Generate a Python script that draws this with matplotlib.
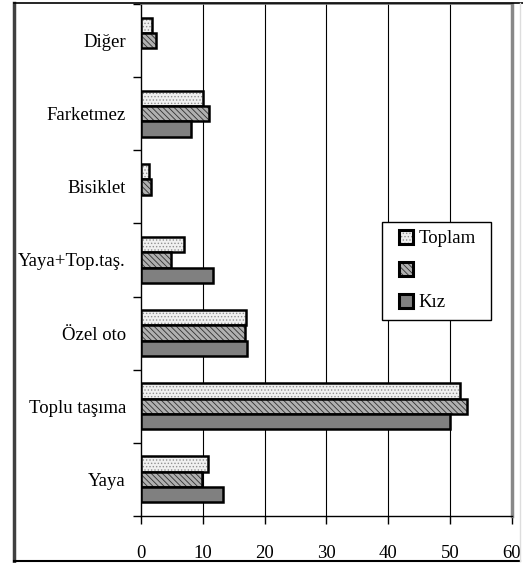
import matplotlib
matplotlib.use("Agg")
import matplotlib.pyplot as plt
from matplotlib.lines import Line2D
from matplotlib.patches import Rectangle
import numpy as np

categories = ["Yaya", "Toplu taşıma", "Özel oto", "Yaya+Top.taş.", "Bisiklet", "Farketmez", "Diğer"]
toplam = [10.9, 51.7, 17.0, 7.0, 1.3, 10.0, 1.8]
erkek = [9.9, 52.7, 16.9, 4.9, 1.6, 11.0, 2.5]
kiz = [13.2, 50.0, 17.2, 11.7, 0.0, 8.1, 0.0]
series_labels = ["Toplam", " ", "Kız"]
xticks = [0, 10, 20, 30, 40, 50, 60]

plt.rcParams['font.family'] = ['Liberation Serif', 'DejaVu Serif']
plt.rcParams['hatch.linewidth'] = 0.6

W, H = 523, 563
fig = plt.figure(figsize=(W/100, H/100), dpi=100)
ax = fig.add_axes([141/W, 1-516/H, (511.7-141)/W, (516-4)/H])

fs = 13.5
y = np.arange(len(categories))
h = 0.21
b1 = ax.barh(y + h, toplam, height=h, facecolor='#f0f0f0', edgecolor='black', hatch='.....', linewidth=1.8, zorder=3)
b2 = ax.barh(y, erkek, height=h, facecolor='#b0b0b0', edgecolor='black', hatch='\\\\\\\\\\\\', linewidth=1.8, zorder=3)
b3 = ax.barh(y - h, kiz, height=h, facecolor='#808080', edgecolor='black', linewidth=1.8, zorder=3)
for bars, hc in ((b1, '#909090'), (b2, '#303030')):
    for p in bars:
        p._hatch_color = matplotlib.colors.to_rgba(hc)
for bars, v in ((b1, toplam), (b2, erkek), (b3, kiz)):
    for p, val in zip(bars, v):
        if val == 0:
            p.set_visible(False)

ax.set_xlim(0, 60)
ax.set_ylim(-0.5, len(categories) - 0.5)
ax.set_xticks(xticks)
ax.set_xticklabels([str(t) for t in xticks], fontsize=fs)
ax.set_yticks(y)
ax.set_yticklabels(categories, fontsize=fs)
ax.set_yticks(np.arange(len(categories) + 1) - 0.5, minor=True)
ax.tick_params(axis='y', which='major', length=0, pad=10.8)
ax.tick_params(axis='y', which='minor', length=6, width=1, direction='out')
ax.tick_params(axis='x', length=6, width=1, direction='out', pad=15)

for t in xticks[1:-1]:
    ax.axvline(t, color='black', linewidth=0.8, zorder=1)
ax.spines['right'].set_color('#888888')
ax.spines['right'].set_linewidth(2.5)
ax.spines['top'].set_color('#777777')
ax.spines['top'].set_linewidth(1.2)
ax.spines['left'].set_linewidth(1.0)
ax.spines['bottom'].set_linewidth(1.0)

# legend box drawn separately (asymmetric padding)
def px2ax(xp, yp):
    return ((xp - 141) / 370.7, (516 - yp) / 512)
x0, y0 = px2ax(382, 320)
x1, y1 = px2ax(491, 222)
ax.add_patch(Rectangle((x0, y0), x1 - x0, y1 - y0, transform=ax.transAxes,
                       facecolor='white', edgecolor='black', linewidth=1.0, zorder=5, clip_on=False))

handles = [b1[0], b2[0], b3[0]]
leg = ax.legend(handles, series_labels, loc='upper left',
                bbox_to_anchor=px2ax(399, 230), fontsize=fs,
                frameon=False,
                handlelength=0.75, handleheight=0.75, labelspacing=0.78, borderpad=0,
                handletextpad=0.3, borderaxespad=0)
leg.set_zorder(6)
for hnd in leg.legend_handles:
    hnd.set_linewidth(2.2)

# figure border
fig.add_artist(Line2D([14/W, 14/W], [1-3/H, 1-561/H], color='#404040', linewidth=2.5, transform=fig.transFigure))
fig.add_artist(Line2D([14/W, 523/W], [1-3/H, 1-3/H], color='black', linewidth=1.2, transform=fig.transFigure))
fig.add_artist(Line2D([14/W, 520/W], [1-561/H, 1-561/H], color='black', linewidth=1.5, transform=fig.transFigure))
fig.add_artist(Line2D([520/W, 520/W], [1-3/H, 1-561/H], color='#dddddd', linewidth=1.0, transform=fig.transFigure))

fig.savefig("out.png", dpi=100)
